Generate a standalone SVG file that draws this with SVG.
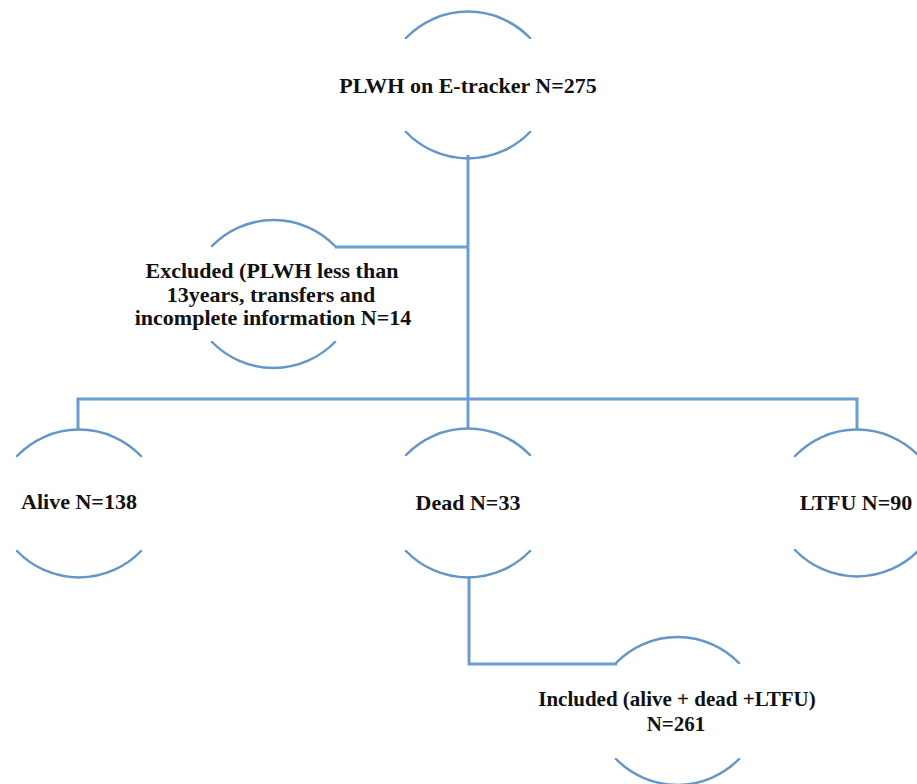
<svg xmlns="http://www.w3.org/2000/svg" width="917" height="784" viewBox="0 0 917 784">
<style>
.arc{fill:none;stroke:#6396c9;stroke-width:2.5;stroke-linecap:round}
.conn{fill:none;stroke:#6b9dd0;stroke-width:3}
.t{font-family:"Liberation Serif","Times New Roman",serif;font-weight:bold;font-size:22px;fill:#111111;text-anchor:middle}
.s{font-size:21px}
</style>
<rect width="917" height="784" fill="#ffffff"/>
<g id="connectors">
<path class="conn" d="M468,155 V399"/>
<path class="conn" d="M468,247 H335"/>
<path class="conn" d="M78,430 V399 H857 V430"/>
<path class="conn" d="M468,399 V429"/>
<path class="conn" d="M469,576 V664 H617"/>
</g>
<g id="node-etracker">
<path class="arc" d="M406,38 A86,86 0 0 1 530,38"/>
<path class="arc" d="M406,132 A86,86 0 0 0 530,132"/>
<text class="t" x="468" y="93">PLWH on E-tracker N=275</text>
</g>
<g id="node-excluded">
<path class="arc" d="M212,246 A86,86 0 0 1 335,246"/>
<path class="arc" d="M212,342 A86,86 0 0 0 335,342"/>
<text class="t" x="272" y="278">Excluded (PLWH less than</text>
<text class="t" x="271" y="302">13years, transfers and</text>
<text class="t" x="273" y="325">incomplete information N=14</text>
</g>
<g id="node-alive">
<path class="arc" d="M17,456 A86,86 0 0 1 141,456"/>
<path class="arc" d="M17,551 A86,86 0 0 0 141,551"/>
<text class="t" x="79" y="509">Alive N=138</text>
</g>
<g id="node-dead">
<path class="arc" d="M406,455 A86,86 0 0 1 530,455"/>
<path class="arc" d="M406,551 A86,86 0 0 0 530,551"/>
<text class="t" x="468" y="510">Dead N=33</text>
</g>
<g id="node-ltfu">
<path class="arc" d="M795,456 A86,86 0 0 1 919,456"/>
<path class="arc" d="M795,550 A86,86 0 0 0 919,550"/>
<text class="t" x="856" y="510">LTFU N=90</text>
</g>
<g id="node-included">
<path class="arc" d="M616,663 A86,86 0 0 1 739,663"/>
<path class="arc" d="M616,759 A86,86 0 0 0 739,759"/>
<text class="t s" x="677" y="706">Included (alive + dead +LTFU)</text>
<text class="t s" x="676" y="731">N=261</text>
</g>
</svg>
